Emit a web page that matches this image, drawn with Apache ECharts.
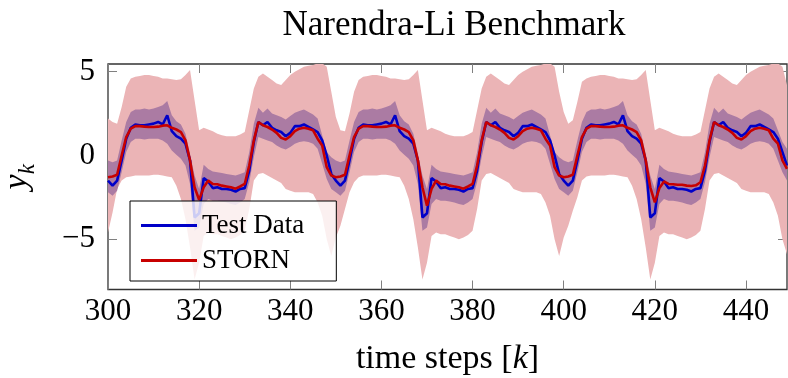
<!DOCTYPE html>
<html>
<head>
<meta charset="utf-8">
<script src="https://cdn.jsdelivr.net/npm/echarts@6/dist/echarts.min.js"></script>
<style>
  html, body { margin: 0; padding: 0; background: #fff; }
  #chart { width: 788px; height: 378px; }
</style>
</head>
<body>
<div id="chart"></div>
<script>
const SERIF = '"Liberation Serif", "DejaVu Serif", serif';

// time steps k = 300 .. 449
const startStep = 300;

// measured test output y_k
const testData = [
  -1.5, -1.8, -1.5, -0.3, 1.0, 1.65, 1.85, 1.8, 1.8, 1.85, 1.9, 2.0, 1.85, 2.4, 1.45, 1.15, 1.0, 0.7, -0.3, -3.7,
  -3.45, -1.35, -1.55, -1.95, -1.9, -2.0, -2.0, -2.05, -2.15, -2.0, -1.95, -0.9, 0.8, 2.0, 1.8, 2.0, 1.65, 1.5, 1.4, 1.15,
  1.35, 1.75, 1.75, 1.85, 1.7, 1.55, 1.4, 0.9, 0.0, -1.1,
  -1.5, -1.8, -1.5, -0.3, 1.0, 1.65, 1.85, 1.8, 1.8, 1.85, 1.9, 2.0, 1.85, 2.4, 1.45, 1.15, 1.0, 0.7, -0.3, -3.7,
  -3.45, -1.35, -1.55, -1.95, -1.9, -2.0, -2.0, -2.05, -2.15, -2.0, -1.95, -0.9, 0.8, 2.0, 1.8, 2.0, 1.65, 1.5, 1.4, 1.15,
  1.35, 1.75, 1.75, 1.85, 1.7, 1.55, 1.4, 0.9, 0.0, -1.1,
  -1.5, -1.8, -1.5, -0.3, 1.0, 1.65, 1.85, 1.8, 1.8, 1.85, 1.9, 2.0, 1.85, 2.4, 1.45, 1.15, 1.0, 0.7, -0.3, -3.7,
  -3.45, -1.35, -1.55, -1.95, -1.9, -2.0, -2.0, -2.05, -2.15, -2.0, -1.95, -0.9, 0.8, 2.0, 1.8, 2.0, 1.65, 1.5, 1.4, 1.15,
  1.35, 1.75, 1.75, 1.85, 1.7, 1.55, 1.4, 1.0, 0.2, -0.6
];

// STORN predicted mean
const stornMean = [
  -1.3, -1.25, -1.15, 0.0, 1.1, 1.6, 1.75, 1.75, 1.72, 1.7, 1.7, 1.72, 1.78, 1.8, 1.65, 1.55, 1.4, 0.9, -0.3, -1.9,
  -2.65, -1.9, -1.5, -1.7, -1.72, -1.8, -1.85, -1.9, -1.98, -1.85, -1.7, -0.6, 0.9, 2.0, 1.8, 1.7, 1.55, 1.35, 1.05, 0.95,
  1.15, 1.45, 1.6, 1.65, 1.6, 1.5, 1.0, 0.6, -0.7, -1.2,
  -1.3, -1.25, -1.15, 0.0, 1.1, 1.6, 1.75, 1.75, 1.72, 1.7, 1.7, 1.72, 1.78, 1.8, 1.65, 1.55, 1.4, 0.9, -0.3, -1.9,
  -3.0, -2.0, -1.5, -1.7, -1.72, -1.8, -1.85, -1.9, -1.98, -1.85, -1.7, -0.6, 0.9, 2.0, 1.8, 1.7, 1.55, 1.35, 1.05, 0.95,
  1.15, 1.45, 1.6, 1.65, 1.6, 1.5, 1.0, 0.6, -0.7, -1.2,
  -1.3, -1.25, -1.15, 0.0, 1.1, 1.6, 1.75, 1.75, 1.72, 1.7, 1.7, 1.72, 1.78, 1.8, 1.65, 1.55, 1.4, 0.9, -0.3, -1.9,
  -2.8, -1.95, -1.55, -1.7, -1.72, -1.75, -1.75, -1.8, -1.82, -1.78, -1.6, -0.6, 0.9, 2.0, 1.8, 1.7, 1.55, 1.35, 1.05, 0.95,
  1.15, 1.45, 1.6, 1.65, 1.6, 1.5, 1.0, 0.7, -0.3, -0.8
];

// inner band (dark)
const innerUpper = [
  -0.3, -0.4, -0.3, 0.9, 2.0, 2.6, 2.75, 2.75, 2.8, 2.75, 2.8, 2.9, 3.0, 3.25, 2.4, 2.05, 1.85, 1.3, 0.1, -1.2,
  -2.0, -0.55, -0.8, -0.95, -1.0, -1.05, -1.1, -1.15, -1.2, -1.1, -1.0, 0.2, 1.9, 2.85, 2.55, 2.8, 2.5, 2.4, 2.3, 2.15,
  2.35, 2.55, 2.65, 2.75, 2.6, 2.45, 2.2, 1.2, 0.2, -0.1,
  -0.3, -0.4, -0.3, 0.9, 2.0, 2.6, 2.75, 2.75, 2.8, 2.75, 2.8, 2.9, 3.0, 3.25, 2.4, 2.05, 1.85, 1.3, 0.1, -1.2,
  -2.0, -0.55, -0.8, -0.95, -1.0, -1.05, -1.1, -1.15, -1.2, -1.1, -1.0, 0.2, 1.9, 2.85, 2.55, 2.8, 2.5, 2.4, 2.3, 2.15,
  2.35, 2.55, 2.65, 2.75, 2.6, 2.45, 2.2, 1.2, 0.2, -0.1,
  -0.3, -0.4, -0.3, 0.9, 2.0, 2.6, 2.75, 2.75, 2.8, 2.75, 2.8, 2.9, 3.0, 3.25, 2.4, 2.05, 1.85, 1.3, 0.1, -1.2,
  -2.0, -0.55, -0.8, -0.95, -1.0, -1.05, -1.1, -1.15, -1.2, -1.1, -1.0, 0.2, 1.9, 2.85, 2.55, 2.8, 2.5, 2.4, 2.3, 2.15,
  2.35, 2.55, 2.65, 2.75, 2.6, 2.45, 2.2, 1.5, 0.8, 0.4
];
const innerLower = [
  -2.2, -2.4, -2.1, -1.0, 0.2, 0.8, 1.0, 1.0, 0.95, 1.0, 1.0, 1.0, 0.9, 0.7, 0.3, 0.05, -0.2, -0.6, -1.7, -4.5,
  -4.3, -2.9, -2.6, -2.7, -2.7, -2.75, -2.8, -2.9, -2.95, -2.8, -2.6, -1.6, -0.1, 1.1, 1.0, 0.9, 0.8, 0.6, 0.45, 0.35,
  0.5, 0.7, 0.8, 0.85, 0.8, 0.7, 0.4, -0.5, -1.4, -2.0,
  -2.2, -2.4, -2.1, -1.0, 0.2, 0.8, 1.0, 1.0, 0.95, 1.0, 1.0, 1.0, 0.9, 0.7, 0.3, 0.05, -0.2, -0.6, -1.7, -4.5,
  -4.3, -2.9, -2.6, -2.7, -2.7, -2.75, -2.8, -2.9, -2.95, -2.8, -2.6, -1.6, -0.1, 1.1, 1.0, 0.9, 0.8, 0.6, 0.45, 0.35,
  0.5, 0.7, 0.8, 0.85, 0.8, 0.7, 0.4, -0.5, -1.4, -2.0,
  -2.2, -2.4, -2.1, -1.0, 0.2, 0.8, 1.0, 1.0, 0.95, 1.0, 1.0, 1.0, 0.9, 0.7, 0.3, 0.05, -0.2, -0.6, -1.7, -4.5,
  -4.3, -2.9, -2.6, -2.7, -2.7, -2.75, -2.8, -2.9, -2.95, -2.8, -2.6, -1.6, -0.1, 1.1, 1.0, 0.9, 0.8, 0.6, 0.45, 0.35,
  0.5, 0.7, 0.8, 0.85, 0.8, 0.7, 0.4, -0.3, -1.0, -1.5
];

// outer band (light)
const outerUpper = [
  2.2, 2.0, 1.9, 2.9, 4.1, 4.6, 4.7, 4.75, 4.8, 4.8, 4.75, 4.7, 4.6, 4.6, 4.55, 4.5, 4.55, 4.8, 5.1, 3.3,
  1.5, 1.65, 1.55, 1.45, 1.3, 1.2, 1.15, 1.15, 1.15, 1.25, 1.4, 2.7, 4.0, 4.7, 4.9, 4.7, 4.5, 4.3, 4.2, 4.5,
  4.8, 5.0, 5.15, 5.3, 5.35, 5.4, 5.5, 5.5, 5.3, 3.8,
  2.3, 1.5, 1.45, 2.5, 3.8, 4.5, 4.7, 4.75, 4.8, 4.8, 4.75, 4.7, 4.6, 4.6, 4.55, 4.5, 4.55, 4.8, 5.1, 3.3,
  1.5, 1.65, 1.55, 1.45, 1.3, 1.2, 1.15, 1.15, 1.15, 1.25, 1.4, 2.7, 4.0, 4.7, 4.9, 4.7, 4.5, 4.3, 4.2, 4.5,
  4.8, 5.0, 5.15, 5.3, 5.35, 5.4, 5.5, 5.5, 5.3, 3.8,
  2.6, 1.9, 2.1, 3.2, 4.4, 4.6, 4.7, 4.75, 4.8, 4.8, 4.75, 4.7, 4.6, 4.6, 4.55, 4.5, 4.55, 4.8, 5.1, 3.3,
  1.5, 1.65, 1.55, 1.45, 1.3, 1.2, 1.15, 1.15, 1.15, 1.25, 1.4, 2.7, 4.0, 4.7, 4.9, 4.7, 4.5, 4.3, 4.2, 4.5,
  4.8, 5.0, 5.15, 5.3, 5.35, 5.4, 5.5, 5.5, 5.3, 4.2
];
const outerLower = [
  -4.6, -3.4, -2.0, -1.5, -1.3, -1.25, -1.2, -1.2, -1.2, -1.2, -1.15, -1.15, -1.2, -1.25, -1.3, -1.8, -2.6, -3.8, -5.5, -7.4,
  -6.4, -4.8, -4.6, -4.7, -4.7, -4.8, -4.9, -5.0, -4.9, -4.75, -4.5, -3.2, -1.5, -1.1, -1.05, -1.2, -1.35, -1.5, -1.65, -2.0,
  -2.1, -2.2, -2.2, -2.2, -2.2, -2.3, -2.8, -3.6, -5.0, -6.0,
  -4.9, -4.2, -3.2, -2.2, -1.6, -1.3, -1.2, -1.2, -1.2, -1.2, -1.15, -1.15, -1.2, -1.25, -1.3, -1.8, -2.6, -3.8, -5.5, -7.4,
  -6.4, -4.8, -4.6, -4.7, -4.7, -4.8, -4.9, -5.0, -4.9, -4.75, -4.5, -3.2, -1.5, -1.1, -1.05, -1.2, -1.35, -1.5, -1.65, -2.0,
  -2.1, -2.2, -2.2, -2.2, -2.2, -2.3, -2.8, -3.6, -5.0, -6.0,
  -4.9, -4.2, -3.3, -2.5, -1.5, -1.25, -1.2, -1.2, -1.2, -1.2, -1.15, -1.15, -1.2, -1.25, -1.3, -1.8, -2.6, -3.8, -5.5, -7.4,
  -6.4, -4.8, -4.6, -4.7, -4.7, -4.8, -4.9, -5.0, -4.9, -4.75, -4.5, -3.2, -1.5, -1.1, -1.05, -1.2, -1.35, -1.5, -1.65, -2.0,
  -2.1, -2.2, -2.2, -2.2, -2.2, -2.3, -2.8, -3.6, -5.0, -5.9
];

const yTicks = [-5, 0, 5];
const steps = testData.map((_, i) => String(startStep + i));

function band(name, lower, upper, color, stack) {
  return [
    {
      name: name + ' lower', type: 'line', stack, stackStrategy: 'all',
      data: lower, symbol: 'none', silent: true,
      lineStyle: { width: 0, opacity: 0 },
    },
    {
      name, type: 'line', stack, stackStrategy: 'all',
      data: upper.map((u, i) => u - lower[i]), symbol: 'none', silent: true,
      lineStyle: { width: 0, opacity: 0 },
      areaStyle: { color, opacity: 1 },
    },
  ];
}

const chart = echarts.init(document.getElementById('chart'), null, { renderer: 'canvas' });

const tickStyle = { show: true, inside: true, length: 9, lineStyle: { color: '#808080', width: 1 } };
const hiddenLine = { show: false, onZero: false };

chart.setOption({
  animation: false,
  backgroundColor: '#fff',
  title: {
    text: 'Narendra-Li Benchmark',
    left: 449, top: 3, textAlign: 'center',
    textStyle: { fontFamily: SERIF, fontSize: 35, fontWeight: 'normal', color: '#000' },
  },
  grid: {
    left: 108, right: 1, top: 64, bottom: 88.5,
    containLabel: false, outerBoundsMode: 'none',
    show: true, borderColor: '#333', borderWidth: 1.3, backgroundColor: 'transparent',
  },
  legend: {
    data: ['Test Data', 'STORN'],
    orient: 'vertical', left: 130, top: 201,
    padding: [11, 32, 7, 11], itemGap: 8,
    icon: 'rect', itemWidth: 56, itemHeight: 3,
    backgroundColor: 'rgba(255,255,255,0.8)', borderColor: '#000', borderWidth: 1, borderRadius: 0,
    textStyle: { fontFamily: SERIF, fontSize: 27, color: '#000' },
  },
  xAxis: [
    {
      type: 'category', data: steps, boundaryGap: false,
      name: '{r|time steps [}{i|k}{r|]}', nameLocation: 'middle', nameGap: 53,
      nameTextStyle: {
        rich: {
          r: { fontFamily: SERIF, fontSize: 34, color: '#000' },
          i: { fontFamily: SERIF, fontSize: 34, fontStyle: 'italic', color: '#000' },
        },
      },
      axisLine: hiddenLine, splitLine: { show: false },
      axisTick: Object.assign({}, tickStyle, { interval: 19 }),
      axisLabel: { interval: 19, margin: 7, fontFamily: SERIF, fontSize: 31, color: '#000' },
    },
    {
      type: 'category', data: steps, boundaryGap: false, position: 'top',
      axisLine: hiddenLine, splitLine: { show: false },
      axisTick: Object.assign({}, tickStyle, { interval: 19 }), axisLabel: { show: false },
    },
  ],
  yAxis: [
    {
      type: 'value', min: -8, max: 5.46,
      name: '{y|y}{k|k}', nameLocation: 'middle', nameRotate: 90, nameGap: 69,
      nameTextStyle: {
        rich: {
          y: { fontFamily: SERIF, fontSize: 34, fontStyle: 'italic', color: '#000', lineHeight: 44, verticalAlign: 'middle' },
          k: { fontFamily: SERIF, fontSize: 23, fontStyle: 'italic', color: '#000', lineHeight: 44, verticalAlign: 'bottom' },
        },
      },
      axisLine: hiddenLine, splitLine: { show: false },
      axisTick: Object.assign({}, tickStyle, { customValues: yTicks }),
      axisLabel: {
        customValues: yTicks, margin: 13, fontFamily: SERIF, fontSize: 31, color: '#000',
        formatter: v => (v < 0 ? '\u2212' + Math.abs(v) : String(v)),
      },
    },
    {
      type: 'value', min: -8, max: 5.46, position: 'right',
      axisLine: hiddenLine, splitLine: { show: false },
      axisTick: Object.assign({}, tickStyle, { customValues: yTicks }),
      axisLabel: { show: false },
    },
  ],
  series: [
    ...band('outer band', outerLower, outerUpper, '#ebb4b6', 'outer'),
    ...band('inner band', innerLower, innerUpper, '#ab7ba3', 'inner'),
    {
      name: 'Test Data', type: 'line', data: testData, symbol: 'none',
      lineStyle: { color: '#0000c8', width: 2.6 }, itemStyle: { color: '#0000c8' },
    },
    {
      name: 'STORN', type: 'line', data: stornMean, symbol: 'none',
      lineStyle: { color: '#c80000', width: 2.6 }, itemStyle: { color: '#c80000' },
    },
  ],
});
</script>
</body>
</html>
